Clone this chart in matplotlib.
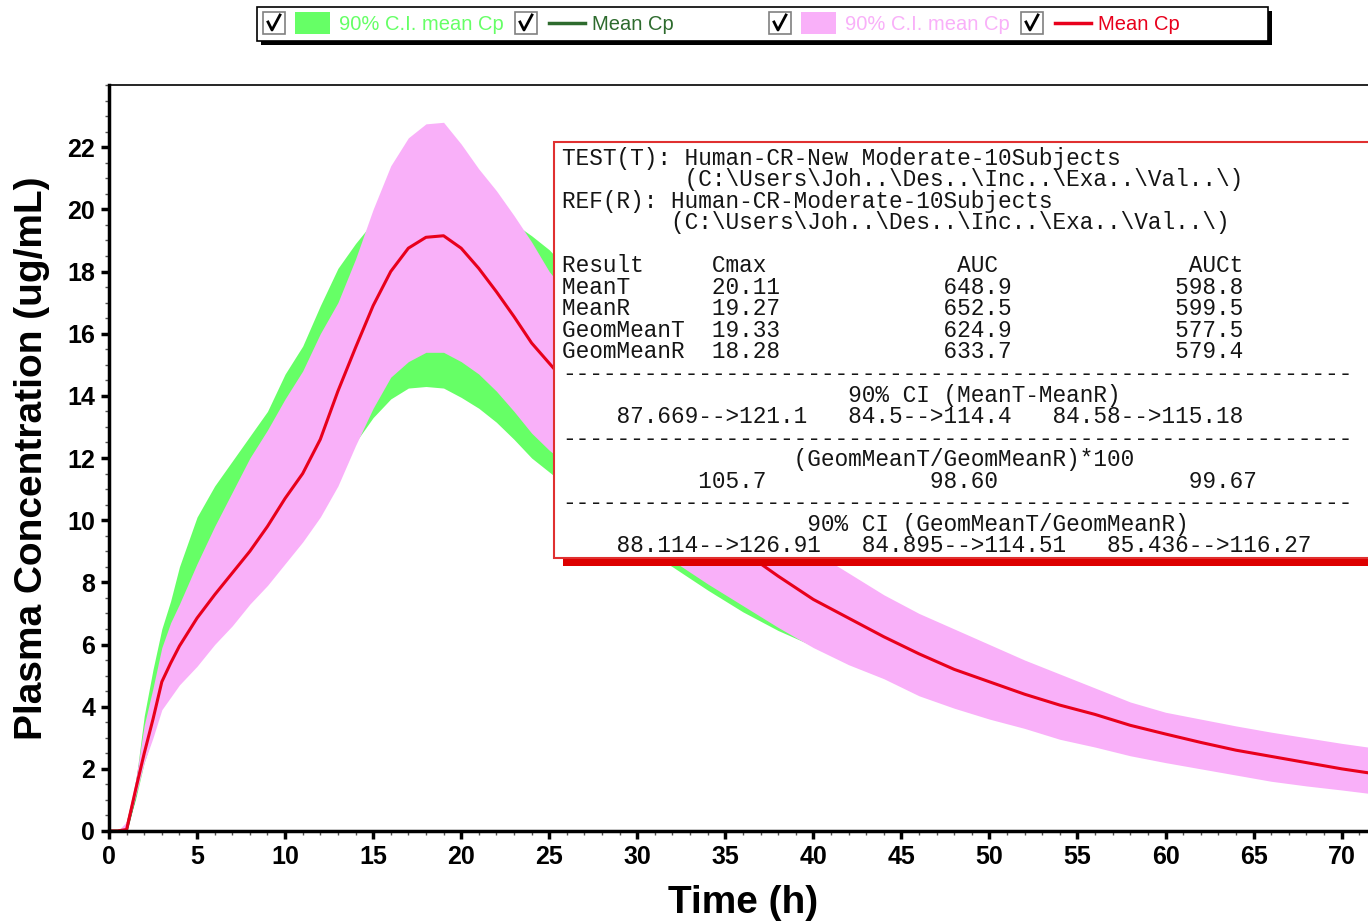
import numpy as np
import matplotlib
matplotlib.use("Agg")
import matplotlib.pyplot as plt
from matplotlib.patches import Rectangle
from matplotlib.lines import Line2D
from matplotlib.ticker import MultipleLocator

# time grid (h)
time_h = [0, 0.5, 1, 1.5, 2, 2.5, 3, 3.5, 4,
          5, 6, 7, 8, 9, 10, 11, 12, 13, 14, 15, 16, 17, 18, 19, 20,
          21, 22, 23, 24, 25, 26,
          28, 30, 32, 34, 36, 38, 40, 42, 44, 46, 48, 50, 52, 54, 56,
          58, 60, 62, 64, 66, 68, 70, 72]

# reference (pink band, red line)
ref_mean = [0, 0, 0.05, 1.3, 2.5, 3.6, 4.8, 5.4, 5.95,
            6.85, 7.6, 8.3, 9.0, 9.8, 10.7, 11.5, 12.6, 14.15, 15.55, 16.9, 18.0,
            18.75, 19.1, 19.15, 18.75, 18.1, 17.35, 16.55, 15.7, 15.05, 14.4,
            13.0, 11.8, 10.7, 9.8, 9.0, 8.2, 7.45, 6.85, 6.25, 5.7, 5.2, 4.8,
            4.4, 4.05, 3.75, 3.4, 3.12, 2.85, 2.6, 2.4, 2.2, 2.0, 1.83]
ref_hi = [0, 0, 0.3, 1.6, 3.4, 4.6, 5.9, 6.7, 7.3,
          8.6, 9.8, 10.9, 12.0, 12.9, 13.9, 14.8, 16.0, 17.0, 18.4, 20.0, 21.4,
          22.3, 22.75, 22.8, 22.1, 21.3, 20.6, 19.8, 18.95, 18.0, 17.3,
          15.8, 14.3, 12.9, 11.7, 10.7, 9.8, 9.0, 8.3, 7.6, 7.0, 6.5, 6.0,
          5.5, 5.05, 4.6, 4.15, 3.82, 3.6, 3.38, 3.18, 3.0, 2.82, 2.66]
ref_lo = [0, 0, 0.05, 1.1, 2.2, 3.0, 3.9, 4.3, 4.7,
          5.3, 6.0, 6.6, 7.3, 7.9, 8.6, 9.3, 10.1, 11.1, 12.4, 13.6, 14.6,
          15.1, 15.4, 15.4, 15.1, 14.7, 14.15, 13.5, 12.8, 12.25, 11.8,
          10.8, 9.8, 8.7, 7.95, 7.25, 6.55, 5.9, 5.35, 4.9, 4.35, 3.95, 3.6,
          3.3, 2.95, 2.7, 2.42, 2.2, 2.0, 1.8, 1.6, 1.45, 1.32, 1.18]

# test (green band, dark green line)
test_mean = [0, 0, 0.05, 1.2, 2.8, 4.0, 5.1, 5.8, 6.6,
             7.8, 8.6, 9.3, 10.0, 10.8, 11.7, 12.6, 13.6, 14.7, 15.6, 16.4, 16.9,
             17.3, 17.45, 17.4, 17.2, 16.85, 16.5, 16.0, 15.5, 15.1, 14.6,
             13.3, 12.0, 10.9, 9.9, 9.0, 8.1, 7.35, 6.7, 6.1, 5.6, 5.1, 4.7,
             4.3, 3.95, 3.6, 3.3, 3.0, 2.8, 2.55, 2.35, 2.15, 2.0, 1.85]
test_hi = [0, 0, 0.2, 1.5, 3.7, 5.2, 6.5, 7.4, 8.5,
           10.1, 11.1, 11.9, 12.7, 13.5, 14.7, 15.6, 16.9, 18.1, 18.9, 19.6, 20.1,
           20.5, 20.65, 20.65, 20.5, 20.2, 19.9, 19.55, 19.15, 18.7, 18.1,
           16.6, 15.0, 13.5, 12.1, 10.9, 9.8, 8.9, 8.1, 7.4, 6.8, 6.3, 5.8,
           5.35, 4.9, 4.5, 4.05, 3.75, 3.5, 3.25, 3.05, 2.85, 2.65, 2.5]
test_lo = [0, 0, 0.05, 1.0, 2.2, 3.1, 4.0, 4.4, 4.9,
           5.5, 6.2, 6.8, 7.5, 8.1, 8.8, 9.5, 10.3, 11.3, 12.5, 13.3, 13.9,
           14.25, 14.3, 14.25, 13.95, 13.6, 13.15, 12.6, 12.0, 11.55, 11.1,
           10.1, 9.2, 8.5, 7.75, 7.05, 6.45, 5.95, 5.4, 4.95, 4.45, 4.05, 3.7,
           3.35, 3.05, 2.8, 2.5, 2.3, 2.1, 1.9, 1.7, 1.55, 1.4, 1.25]

# stats box content
test_name = "Human-CR-New Moderate-10Subjects"
ref_name = "Human-CR-Moderate-10Subjects"
path_short = "(C:\\Users\\Joh..\\Des..\\Inc..\\Exa..\\Val..\\)"
result_rows = ["MeanT", "MeanR", "GeomMeanT", "GeomMeanR"]
cmax_vals = ["20.11", "19.27", "19.33", "18.28"]
auc_vals = ["648.9", "652.5", "624.9", "633.7"]
auct_vals = ["598.8", "599.5", "577.5", "579.4"]
ci_mean = ["87.669-->121.1", "84.5-->114.4", "84.58-->115.18"]
geo_ratio = ["105.7", "98.60", "99.67"]
ci_geo = ["88.114-->126.91", "84.895-->114.51", "85.436-->116.27"]

GREEN = "#66FF66"
DKGREEN = "#2E6B2E"
PINK = "#F9B0F9"
RED = "#E8001C"

W, H = 1368, 924
fig = plt.figure(figsize=(W / 100, H / 100), dpi=100)


def fx(x):
    return x / W


def fy(y):
    return 1 - y / H


ax = fig.add_axes([fx(109), fy(831), 1 - fx(109), fy(85) - fy(831)])

# draw order: green band, green mean, pink band, red mean
ax.fill_between(time_h, test_lo, test_hi, color=GREEN, lw=0, zorder=1)
ax.plot(time_h, test_mean, color=DKGREEN, lw=2.2, zorder=2)
ax.fill_between(time_h, ref_lo, ref_hi, color=PINK, lw=0, zorder=3)
ax.plot(time_h, ref_mean, color=RED, lw=2.2, zorder=4)

ax.set_xlim(0, 71.5)
ax.set_ylim(0, 24)
ax.xaxis.set_major_locator(MultipleLocator(5))
ax.xaxis.set_minor_locator(MultipleLocator(1))
ax.yaxis.set_minor_locator(MultipleLocator(0.5))
ax.set_yticks(np.arange(0, 23, 2))

for s in ["left", "bottom"]:
    ax.spines[s].set_linewidth(2.5)
    ax.spines[s].set_zorder(5)
ax.spines["top"].set_linewidth(1.2)
ax.spines["right"].set_visible(False)
ax.tick_params(which="major", direction="out", length=6, width=2.5,
               labelsize=18, pad=4)
ax.tick_params(which="minor", direction="out", length=3, width=1, color="#555555")
ax.tick_params(top=False, right=False, which="both")
for lab in ax.get_xticklabels() + ax.get_yticklabels():
    lab.set_fontfamily("Liberation Sans")
    lab.set_fontweight("bold")

fig.text(fx(32), fy(458), "Plasma Concentration (ug/mL)", rotation=90,
         ha="center", va="center", fontsize=28, fontweight="bold",
         family="Liberation Sans")
fig.text(fx(743), fy(903), "Time (h)", ha="center", va="center",
         fontsize=28, fontweight="bold", family="Liberation Sans")

# ---- legend strip at top ----
fig.patches.append(Rectangle((fx(261), fy(45)), fx(1272) - fx(261), fy(11) - fy(45),
                             transform=fig.transFigure, facecolor="black",
                             edgecolor="none", zorder=1))
fig.patches.append(Rectangle((fx(257), fy(41)), fx(1268) - fx(257), fy(7) - fy(41),
                             transform=fig.transFigure, facecolor="white",
                             edgecolor="black", lw=1.2, zorder=1.1))

legend_items = [
    (263, "patch", GREEN, "90% C.I. mean Cp", GREEN),
    (515, "line", DKGREEN, "Mean Cp", DKGREEN),
    (769, "patch", PINK, "90% C.I. mean Cp", PINK),
    (1021, "line", RED, "Mean Cp", RED),
]
cy = 23
for x0, kind, col, label, tcol in legend_items:
    fig.patches.append(Rectangle((fx(x0), fy(34)), fx(22), fy(12) - fy(34),
                                 transform=fig.transFigure, facecolor="white",
                                 edgecolor="#808080", lw=1.2, zorder=1.2))
    fig.lines.append(Line2D([fx(x0 + 5), fx(x0 + 9), fx(x0 + 17)],
                            [fy(22), fy(30), fy(15)], transform=fig.transFigure,
                            color="black", lw=2.0, zorder=1.3))
    if kind == "patch":
        fig.patches.append(Rectangle((fx(x0 + 32), fy(34)), fx(35), fy(12) - fy(34),
                                     transform=fig.transFigure, facecolor=col,
                                     edgecolor="none", zorder=1.2))
        tx = x0 + 76
    else:
        fig.lines.append(Line2D([fx(x0 + 34), fx(x0 + 70)], [fy(cy), fy(cy)],
                                transform=fig.transFigure, color=col, lw=2.5,
                                zorder=1.3))
        tx = x0 + 77
    fig.text(fx(tx), fy(cy + 1), label, color=tcol, fontsize=14.5,
             ha="left", va="center", family="Liberation Sans")

# ---- statistics box ----
fig.patches.append(Rectangle((fx(563), fy(566)), 1.2, fy(557) - fy(566),
                             transform=fig.transFigure, facecolor="#DD0000",
                             edgecolor="none", zorder=1))
fig.patches.append(Rectangle((fx(554), fy(558)), 1.2, fy(142) - fy(558),
                             transform=fig.transFigure, facecolor="white",
                             edgecolor="#E03030", lw=1.5, zorder=1.1))

dash = "-" * 58
lines = [
    "TEST(T): " + test_name,
    " " * 9 + path_short,
    "REF(R): " + ref_name,
    " " * 8 + path_short,
    "",
    "Result".ljust(11) + "Cmax".ljust(18) + "AUC".ljust(17) + "AUCt",
]
for r, c, a, t in zip(result_rows, cmax_vals, auc_vals, auct_vals):
    lines.append(r.ljust(11) + c.ljust(17) + a.ljust(17) + t)
lines += [
    dash,
    " " * 21 + "90% CI (MeanT-MeanR)",
    " " * 4 + "   ".join(ci_mean),
    dash,
    " " * 17 + "(GeomMeanT/GeomMeanR)*100",
    " " * 10 + geo_ratio[0].ljust(17) + geo_ratio[1].ljust(19) + geo_ratio[2],
    dash,
    " " * 18 + "90% CI (GeomMeanT/GeomMeanR)",
    " " * 4 + "   ".join(ci_geo),
]
for i, txt in enumerate(lines):
    if not txt:
        continue
    fig.text(fx(562), fy(158 + i * 21.55), txt, ha="left", va="center",
             fontsize=16.4, family="Liberation Mono", color="#151515",
             zorder=3)

fig.savefig("out.png", dpi=100)
